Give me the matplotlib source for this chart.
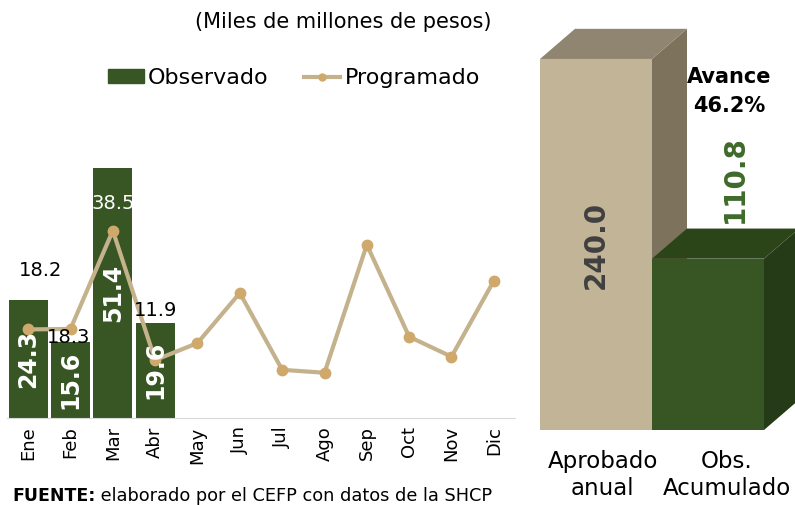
import matplotlib
matplotlib.use("Agg")
import matplotlib.pyplot as plt
from matplotlib.patches import Polygon, Rectangle
from matplotlib.lines import Line2D

# data
months = ["Ene", "Feb", "Mar", "Abr", "May", "Jun", "Jul", "Ago", "Sep", "Oct", "Nov", "Dic"]
observado = [24.3, 15.6, 51.4, 19.6]
programado = [18.2, 18.3, 38.5, 11.9, 15.4, 25.7, 9.9, 9.3, 35.6, 16.7, 12.6, 28.2]
prog_labels = ["18.2", "18.3", "38.5", "11.9"]
resumen_cats = ["Aprobado\nanual", "Obs.\nAcumulado"]
resumen_vals = [240.0, 110.8]
avance = "Avance\n46.2%"

GREEN = "#375623"
LINE = "#C4B28C"
MARK = "#CFA96B"

plt.rcParams["font.family"] = ["DejaVu Sans"]

fig = plt.figure(figsize=(7.95, 5.05), dpi=100)

# left panel: monthly bars + line
ax = fig.add_axes([7 / 795, 87 / 505, 508 / 795, 292 / 505])
x = list(range(len(months)))
ax.bar(x[:len(observado)], observado, width=0.92, color=GREEN, zorder=2)
ax.plot(x, programado, color=LINE, lw=3, marker="o", ms=7.5,
        mfc=MARK, mec=MARK, zorder=3)
ax.set_xlim(-0.5, 11.5)
ax.set_ylim(0, 60)
for s in ["left", "right", "top"]:
    ax.spines[s].set_visible(False)
ax.spines["bottom"].set_color("#D9D9D9")
ax.set_yticks([])
ax.set_xticks(x)
ax.set_xticklabels(months, rotation=90, fontsize=13)
ax.tick_params(axis="x", length=0, pad=6)

for i, v in enumerate(observado):
    ax.text(i, v / 2, f"{v:.1f}", rotation=90, ha="center", va="center",
            color="white", fontsize=17, fontweight="bold", zorder=4)

# label offsets in pixels (as placed in the source chart)
offsets = [(12, 59), (-2, -9), (0, 27), (0, 50)]
for i, (lab, off) in enumerate(zip(prog_labels, offsets)):
    col = "white" if i == 2 else "black"
    ax.annotate(lab, (i, programado[i]), xytext=off, textcoords="offset pixels",
                ha="center", va="center", fontsize=14, color=col, zorder=5)

handles = [Rectangle((0, 0), 1, 1, color=GREEN),
           Line2D([], [], color=LINE, lw=3, marker="o", ms=5, mfc=MARK, mec=MARK)]
fig.legend(handles, ["Observado", "Programado"], loc="center",
           bbox_to_anchor=(294 / 795, 1 - 78 / 505), ncol=2, frameon=False,
           fontsize=16, handlelength=1.6, handleheight=0.6, columnspacing=1.6,
           handletextpad=0.2)

fig.text(343 / 795, 1 - 22 / 505, "(Miles de millones de pesos)",
         ha="center", va="center", fontsize=15)

t1 = fig.text(12 / 795, 1 - 496 / 505, "FUENTE:", fontsize=12.5,
              fontweight="bold", va="center")
ax.annotate(" elaborado por el CEFP con datos de la SHCP", xy=(1, 0.5),
            xycoords=t1, va="center", ha="left", fontsize=12.8)

# right panel: pseudo-3D summary bars
ax2 = fig.add_axes([540 / 795, 75 / 505, 255 / 795, 430 / 505])
ax2.set_xlim(0, 255 / 112)
ax2.set_ylim(0, 430 / 1.546)
ax2.axis("off")
dx, dy = 0.3125, 19.5
faces = [("#C2B496", "#7D725C", "#908570"), (GREEN, "#253A16", "#2B4519")]
for i, (v, (front, side, top)) in enumerate(zip(resumen_vals, faces)):
    ax2.add_patch(Rectangle((i, 0), 1, v, facecolor=front, edgecolor="none"))
    ax2.add_patch(Polygon([(i + 1, 0), (i + 1 + dx, dy), (i + 1 + dx, v + dy), (i + 1, v)],
                          facecolor=side, edgecolor="none"))
    ax2.add_patch(Polygon([(i, v), (i + dx, v + dy), (i + 1 + dx, v + dy), (i + 1, v)],
                          facecolor=top, edgecolor="none"))

ax2.text(0.5, resumen_vals[0] / 2, f"{resumen_vals[0]:.1f}", rotation=90,
         ha="center", va="center", fontsize=20, fontweight="bold", color="#404040")
ax2.text(1.74, resumen_vals[1] + dy + 32, f"{resumen_vals[1]:.1f}", rotation=90,
         ha="center", va="center", fontsize=20, fontweight="bold", color="#3E6A2A")
ax2.text(1.69, 219, avance, ha="center", va="center", fontsize=15,
         fontweight="bold", linespacing=1.55)
for i, (lab, xo) in enumerate(zip(resumen_cats, [0.56, 0.67])):
    ax2.text(i + xo, -29, lab, ha="center", va="center", fontsize=16.5,
             linespacing=1.2, clip_on=False)

fig.savefig("out.png", dpi=100)
